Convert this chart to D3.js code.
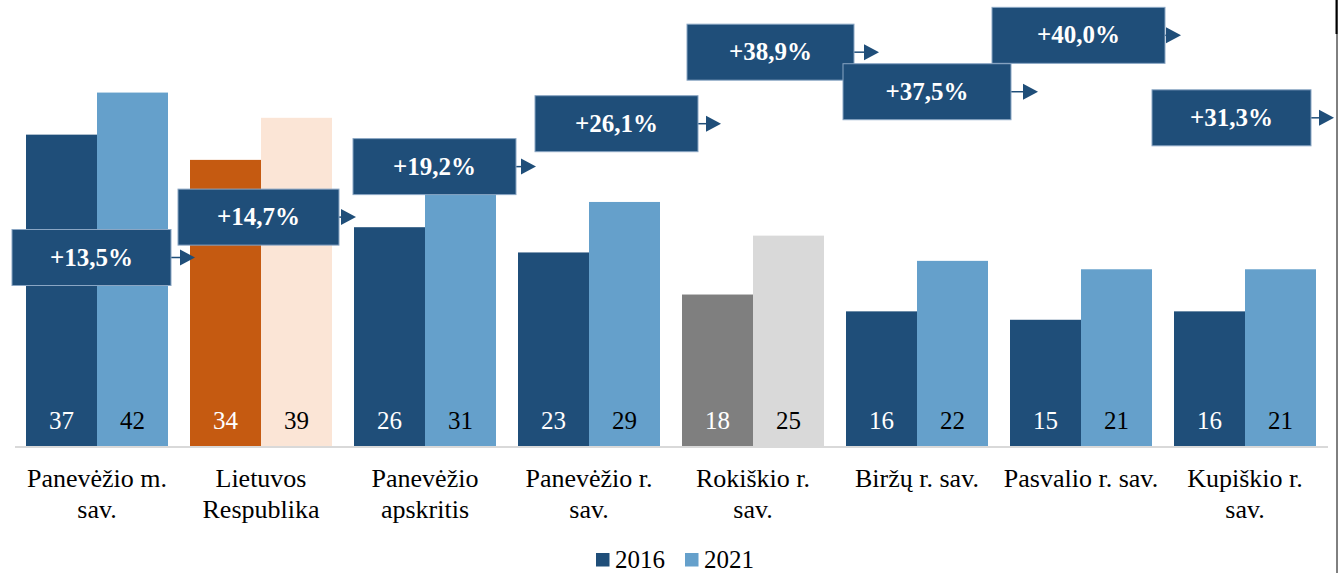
<html>
  <head>
    <style>
      body { margin: 0; background: #fff; }
      text { font-family: "Liberation Serif", "Times New Roman", serif; }
    </style>
  </head>
  <body>
    <svg id="container" height="573" width="1342"></svg>
  </body>
  <script src="https://cdn.jsdelivr.net/npm/d3@7"></script>
  <script>
    // data
    const categories = ["Panevėžio m.\nsav.", "Lietuvos\nRespublika", "Panevėžio\napskritis",
        "Panevėžio r.\nsav.", "Rokiškio r.\nsav.", "Biržų r. sav.", "Pasvalio r. sav.", "Kupiškio r.\nsav."];
    const series = ["2016", "2021"];
    const values2016 = [37, 34, 26, 23, 18, 16, 15, 16];
    const values2021 = [42, 39, 31, 29, 25, 22, 21, 21];
    const growthLabels = ["+13,5%", "+14,7%", "+19,2%", "+26,1%", "+38,9%", "+37,5%", "+40,0%", "+31,3%"];
    // where each growth callout sits, in value units on the y axis
    const growthAnchor = [22.4, 27.2, 33.2, 38.3, 46.8, 42.1, 48.8, 39.0];

    // callout layout: shift from the bar group, box width, arrow length
    const callouts = [
        { dx: -14, w: 159, arrow: 24 },
        { dx: -12, w: 161, arrow: 17 },
        { dx: -1, w: 163, arrow: 20 },
        { dx: 17, w: 163, arrow: 23 },
        { dx: 5, w: 167, arrow: 25 },
        { dx: -3, w: 168, arrow: 27 },
        { dx: -18, w: 173, arrow: 16 },
        { dx: -22, w: 159, arrow: 23 }
    ];

    const dark = "#1f4e79", light = "#65a0cb";
    const palette = categories.map((c, i) =>
        i === 1 ? ["#c55a11", "#fbe5d6"] : i === 4 ? ["#7f7f7f", "#d9d9d9"] : [dark, light]);

    let svg = d3.select("#container");
    let baseY = 446;

    let xScale = d3.scaleBand()
        .domain(categories)
        .range([15, 1327])
        .paddingInner(22 / 164)
        .paddingOuter(11 / 164);
    let xSub = d3.scaleBand()
        .domain(series)
        .range([0, xScale.bandwidth()]);
    let yScale = d3.scaleLinear()
        .domain([0, 53])
        .range([baseY, 0]);

    let rows = [];
    categories.forEach((c, i) => {
        rows.push({ cat: c, s: "2016", v: values2016[i], color: palette[i][0], text: "#fff" });
        rows.push({ cat: c, s: "2021", v: values2021[i], color: palette[i][1], text: "#000" });
    });

    // baseline
    svg.append("line")
        .attr("x1", 15).attr("x2", 1328)
        .attr("y1", baseY + 1).attr("y2", baseY + 1)
        .attr("stroke", "#d9d9d9").attr("stroke-width", 2);

    svg.append("g").selectAll("rect")
        .data(rows)
        .join("rect")
        .attr("x", d => xScale(d.cat) + xSub(d.s))
        .attr("width", xSub.bandwidth())
        .attr("y", d => yScale(d.v))
        .attr("height", d => yScale(0) - yScale(d.v))
        .attr("fill", d => d.color);

    svg.append("g").selectAll("text")
        .data(rows)
        .join("text")
        .attr("x", d => xScale(d.cat) + xSub(d.s) + xSub.bandwidth() / 2)
        .attr("y", yScale(0) - 17)
        .attr("text-anchor", "middle")
        .attr("font-size", 25)
        .attr("fill", d => d.text)
        .text(d => d.v);

    // category labels
    let xAxis = svg.append("g")
        .attr("transform", "translate(0," + baseY + ")")
        .call(d3.axisBottom(xScale).tickSize(0).tickFormat(""));
    xAxis.select(".domain").remove();
    xAxis.selectAll(".tick").each(function (d) {
        let t = d3.select(this).append("text")
            .attr("fill", "#000")
            .attr("font-size", 26)
            .attr("text-anchor", "middle");
        d.split("\n").forEach((line, k) => {
            t.append("tspan").attr("x", 0).attr("y", 41 + k * 31).text(line);
        });
    });

    // growth callouts
    let cg = svg.append("g");
    categories.forEach((c, i) => {
        let co = callouts[i];
        let cy = yScale(growthAnchor[i]);
        let left = xScale(c) + co.dx;
        let right = left + co.w;
        let g = cg.append("g");
        g.append("line")
            .attr("x1", right).attr("x2", right + co.arrow - 12)
            .attr("y1", cy).attr("y2", cy)
            .attr("stroke", dark).attr("stroke-width", 1.5);
        g.append("path")
            .attr("d", `M${right + co.arrow - 15},${cy - 8}L${right + co.arrow},${cy}L${right + co.arrow - 15},${cy + 8}Z`)
            .attr("fill", dark);
        g.append("rect")
            .attr("x", left).attr("y", cy - 28)
            .attr("width", co.w).attr("height", 56)
            .attr("fill", dark)
            .attr("stroke", "#8aa6c4").attr("stroke-width", 1);
        g.append("text")
            .attr("x", left + co.w / 2).attr("y", cy + 8)
            .attr("text-anchor", "middle")
            .attr("font-size", 25).attr("font-weight", "bold")
            .attr("fill", "#fff")
            .text(growthLabels[i]);
    });

    // legend
    let legend = svg.append("g").attr("transform", "translate(596,553)");
    series.forEach((s, i) => {
        let lg = legend.append("g").attr("transform", "translate(" + (i * 89) + ",0)");
        lg.append("rect").attr("width", 13.5).attr("height", 13.5).attr("fill", i === 0 ? dark : light);
        lg.append("text").attr("x", 19).attr("y", 14.5).attr("font-size", 25).attr("fill", "#000").text(s);
    });

    // frame edge on the right
    svg.append("line").attr("x1", 1337).attr("x2", 1337).attr("y1", 0).attr("y2", 573)
        .attr("stroke", "#000").attr("stroke-width", 1);
    svg.append("line").attr("x1", 1336.5).attr("x2", 1336.5).attr("y1", 0).attr("y2", 34)
        .attr("stroke", "#000").attr("stroke-width", 2);
  </script>
</html>
